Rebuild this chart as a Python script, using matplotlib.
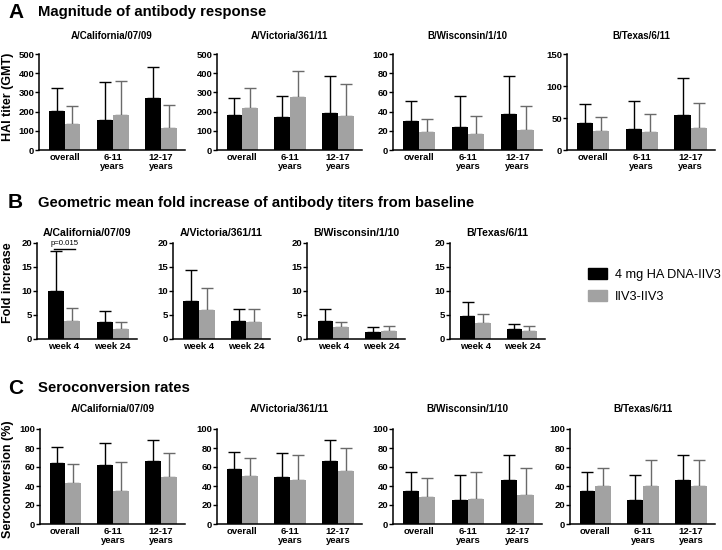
import numpy as np
import matplotlib.pyplot as plt
from matplotlib.patches import Patch

plt.rcParams['font.family'] = ['Liberation Sans', 'DejaVu Sans']

strains = ['A/California/07/09', 'A/Victoria/361/11', 'B/Wisconsin/1/10', 'B/Texas/6/11']
age_groups = ['overall', '6-11\nyears', '12-17\nyears']
weeks = ['week 4', 'week 24']
groups = ['4 mg HA DNA-IIV3', 'IIV3-IIV3']

# A: HAI titer GMT, bar height and top of error bar, per strain
gmt_dna = [[205, 158, 270], [183, 172, 195], [30, 24, 38], [42, 33, 55]]
gmt_dna_top = [[322, 352, 432], [270, 280, 387], [51, 56, 77], [72, 77, 112]]
gmt_iiv = [[138, 180, 112], [220, 277, 177], [19, 17, 21], [30, 28, 34]]
gmt_iiv_top = [[228, 358, 235], [322, 412, 345], [32, 35, 46], [51, 57, 74]]
gmt_ylim = [500, 500, 100, 150]
gmt_step = [100, 100, 20, 50]

# B: fold increase from baseline
fold_dna = [[10.1, 3.5], [7.9, 3.7], [3.8, 1.5], [4.7, 2.0]]
fold_dna_top = [[18.3, 5.8], [14.3, 6.3], [6.3, 2.4], [7.8, 3.2]]
fold_iiv = [[3.8, 2.1], [6.1, 3.5], [2.4, 1.7], [3.4, 1.7]]
fold_iiv_top = [[6.5, 3.6], [10.6, 6.2], [3.6, 2.7], [5.3, 2.8]]

# C: seroconversion (%)
sero_dna = [[64, 62, 66], [58, 50, 66], [35, 25, 46], [35, 25, 46]]
sero_dna_top = [[81, 85, 88], [76, 75, 88], [55, 52, 73], [55, 52, 73]]
sero_iiv = [[43, 35, 49], [51, 46, 56], [28, 26, 31], [40, 40, 40]]
sero_iiv_top = [[63, 65, 75], [70, 73, 80], [48, 55, 59], [59, 67, 67]]

W, H = 722, 550
fig = plt.figure(figsize=(W / 100, H / 100), dpi=100)


def box(x0, x1, ytop, ybot):
    return [x0 / W, 1 - ybot / H, (x1 - x0) / W, (ybot - ytop) / H]


def panel(ax, cats, v1, t1, v2, t2, ymax, step, title, pad, tsize):
    x = np.arange(len(cats))
    w = 0.33
    v1, t1, v2, t2 = map(np.array, (v1, t1, v2, t2))
    ax.bar(x - w / 2, v1, w, color='black', zorder=2)
    ax.bar(x + w / 2, v2, w, color='#a2a2a2', zorder=2)
    ax.errorbar(x - w / 2, v1, yerr=[np.zeros(len(x)), t1 - v1], fmt='none',
                ecolor='black', elinewidth=1, capsize=4, capthick=1, zorder=1)
    ax.errorbar(x + w / 2, v2, yerr=[np.zeros(len(x)), t2 - v2], fmt='none',
                ecolor='#6a6a6a', elinewidth=1, capsize=4, capthick=1, zorder=1)
    ax.set_ylim(0, ymax)
    ax.set_yticks(np.arange(0, ymax + 1, step))
    ax.set_xlim(-0.53 if len(cats) == 3 else -0.55, len(cats) - 0.5)
    ax.set_xticks(x)
    ax.set_xticklabels(cats, fontsize=6.8, fontweight='bold', linespacing=1.05)
    for lab in ax.get_yticklabels():
        lab.set_fontsize(6.8)
        lab.set_fontweight('bold')
    ax.tick_params(axis='x', length=0, pad=2)
    ax.tick_params(axis='y', length=3, width=1, pad=0.5)
    for s in ['top', 'right']:
        ax.spines[s].set_visible(False)
    for s in ['left', 'bottom']:
        ax.spines[s].set_linewidth(1.1)
    ax.set_title(title, fontsize=tsize, fontweight='bold', pad=pad)


rowA = [(39, 185), (217, 362), (393, 542), (567, 715)]
rowB = [(37, 137), (173, 270), (307, 405), (450, 545)]
rowC = [(40, 185), (217, 362), (393, 542), (570, 715)]

for i in range(4):
    ax = fig.add_axes(box(rowA[i][0], rowA[i][1], 54, 150))
    panel(ax, age_groups, gmt_dna[i], gmt_dna_top[i], gmt_iiv[i], gmt_iiv_top[i],
          gmt_ylim[i], gmt_step[i], strains[i], 11, 7)

for i in range(4):
    ax = fig.add_axes(box(rowB[i][0], rowB[i][1], 243, 339))
    panel(ax, weeks, fold_dna[i], fold_dna_top[i], fold_iiv[i], fold_iiv_top[i],
          20, 5, strains[i], 5, 7.6)
    if i == 0:
        ax.plot([-0.2, 0.22], [18.8, 18.8], color='black', lw=1, clip_on=False)
        ax.text(0.01, 19.1, 'p=0.015', fontsize=5.6, ha='center', va='bottom')

for i in range(4):
    ax = fig.add_axes(box(rowC[i][0], rowC[i][1], 429, 524))
    panel(ax, age_groups, sero_dna[i], sero_dna_top[i], sero_iiv[i], sero_iiv_top[i],
          100, 20, strains[i], 12, 7.2)

# section headers
heads = [('A', 'Magnitude of antibody response', 12),
         ('B', 'Geometric mean fold increase of antibody titers from baseline', 203),
         ('C', 'Seroconversion rates', 388)]
for letter, text, yc in heads:
    fig.text(8 / W, 1 - yc / H, letter, fontsize=15, fontweight='bold', va='center')
    fig.text(38 / W, 1 - yc / H, text, fontsize=10.7, fontweight='bold', va='center')

# y labels
for text, yc in [('HAI titer (GMT)', 97), ('Fold increase', 283), ('Seroconversion (%)', 479)]:
    fig.text(8 / W, 1 - yc / H, text, fontsize=9, fontweight='bold',
             rotation=90, ha='center', va='center')

handles = [Patch(color='black'), Patch(color='#a2a2a2')]
fig.legend(handles, groups, loc='upper left', bbox_to_anchor=(588 / W, 1 - 268 / H),
           frameon=False, fontsize=9.2, handlelength=1.5, handleheight=0.95,
           handletextpad=0.6, labelspacing=0.7, borderpad=0, borderaxespad=0)

fig.savefig('out.png', dpi=100)
